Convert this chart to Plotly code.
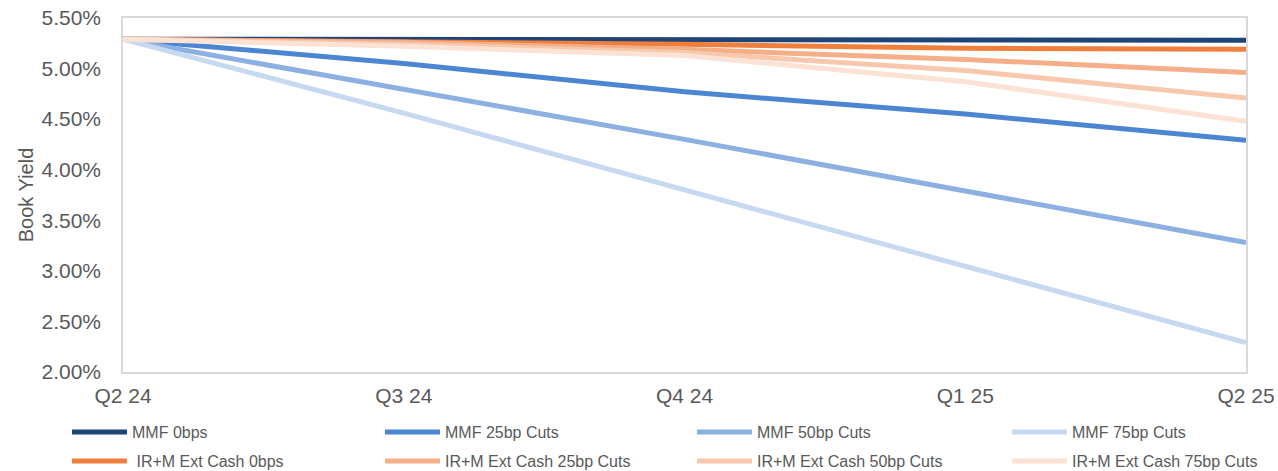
import plotly.graph_objects as go

quarters = ["Q2 24", "Q3 24", "Q4 24", "Q1 25", "Q2 25"]

mmf_0bps = [5.29, 5.29, 5.28, 5.28, 5.28]
mmf_25bp = [5.29, 5.05, 4.77, 4.55, 4.29]
mmf_50bp = [5.29, 4.80, 4.30, 3.79, 3.28]
mmf_75bp = [5.29, 4.56, 3.80, 3.05, 2.29]

irm_0bps = [5.29, 5.27, 5.24, 5.20, 5.19]
irm_25bp = [5.29, 5.26, 5.19, 5.09, 4.96]
irm_50bp = [5.29, 5.24, 5.16, 4.98, 4.71]
irm_75bp = [5.29, 5.22, 5.13, 4.87, 4.48]

series_names = ["MMF 0bps", "MMF 25bp Cuts", "MMF 50bp Cuts", "MMF 75bp Cuts",
                " IR+M Ext Cash 0bps", "IR+M Ext Cash 25bp Cuts",
                "IR+M Ext Cash 50bp Cuts", "IR+M Ext Cash 75bp Cuts"]
series_values = [mmf_0bps, mmf_25bp, mmf_50bp, mmf_75bp,
                 irm_0bps, irm_25bp, irm_50bp, irm_75bp]
series_colors = ["#1F4479", "#4C86D3", "#8CB0E2", "#C7D8F1",
                 "#F07F3E", "#F5AF88", "#F8C8AC", "#FBE2D4"]

W, H = 1278, 471
legend_cols_px = [67, 380, 692, 1007]
legend_rows_px = [432, 461]

fig = go.Figure()
legends = {}
for i, (name, vals, color) in enumerate(zip(series_names, series_values, series_colors)):
    key = "legend" if i == 0 else f"legend{i + 1}"
    fig.add_trace(go.Scatter(
        x=quarters, y=vals, name=name, mode="lines",
        line=dict(color=color, width=5), legend=key,
    ))
    row, col = divmod(i, 4)
    legends[key] = dict(
        orientation="h",
        xref="container", yref="container",
        x=legend_cols_px[col] / W, xanchor="left",
        y=1 - legend_rows_px[row] / H, yanchor="middle",
        itemwidth=55,
        font=dict(size=16, color="#595959"),
        bgcolor="rgba(0,0,0,0)",
    )

fig.update_layout(
    width=W, height=H,
    margin=dict(l=123, r=32, t=18, b=99, autoexpand=False),
    paper_bgcolor="white", plot_bgcolor="white",
    font=dict(family="Liberation Sans, Arial, sans-serif", color="#595959"),
    showlegend=True,
    **legends,
)

fig.update_xaxes(
    type="category", range=[0, 4],
    showgrid=False, showline=True, mirror=True, linecolor="#D9D9D9", linewidth=1.5,
    ticks="", ticklabelstandoff=4, tickfont=dict(size=21, color="#595959"),
)
fig.update_yaxes(
    range=[2.0, 5.5], dtick=0.5, tickformat=".2f", ticksuffix="%",
    showgrid=False, showline=True, mirror=True, linecolor="#D9D9D9", linewidth=1.5,
    zeroline=False, ticks="", ticklabelstandoff=16,
    tickfont=dict(size=21, color="#595959"),
    title=dict(text="Book Yield", font=dict(size=20, color="#595959"), standoff=3),
)

fig.write_html("out.html", config={"displayModeBar": False},
               post_script="document.body.style.margin='0';")
